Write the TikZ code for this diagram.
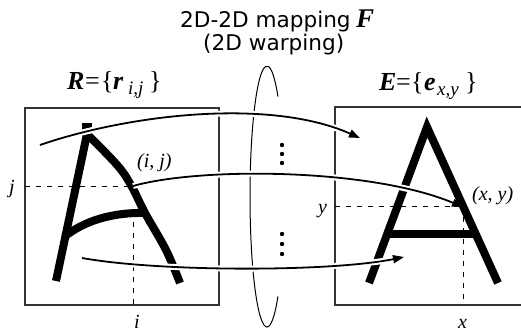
\documentclass[tikz,border=0pt]{standalone}
\usepackage{fontspec}
\setmainfont{Liberation Serif}
\newfontfamily\titlefont{DejaVu Sans}
\usetikzlibrary{arrows.meta}
\newcommand{\bi}[1]{\textbf{\textit{#1}}}
\newcommand{\sbx}[2]{\makebox[#1pt][l]{#2}}
\newcommand{\subtx}[1]{\raisebox{-5pt}{\fontsize{19}{19}\selectfont\itshape #1}}
\tikzset{
  box/.style={draw=black!80, line width=1.1pt},
  glyph/.style={line width=8pt, line join=miter, line cap=butt},
  guide/.style={dash pattern=on 5pt off 6pt, line width=0.9pt},
  halo/.style={draw=white, line width=6pt, shorten >=9pt},
  maparrow/.style={line width=1.8pt, -{Triangle[length=11pt,width=8pt]}},
  lbl/.style={font=\fontsize{20}{20}\selectfont\itshape, inner sep=0pt, anchor=base west},
  setlbl/.style={font=\fontsize{26}{26}\selectfont, inner sep=0pt, anchor=base west},
  ttl/.style={font=\fontsize{21.6}{21.6}\selectfont\titlefont, inner sep=0pt, anchor=base west},
  bigF/.style={font=\fontsize{27}{27}\selectfont\bfseries\itshape, inner sep=0pt, anchor=base west},
}
\begin{document}
\begin{tikzpicture}[x=1pt,y=-1pt]
\useasboundingbox (0,0) rectangle (521,332);
% boxes
\draw[box] (25,108) rectangle (219,305);
\draw[box] (521,107) -- (335,107) -- (335,305) -- (521,305);
% ellipse (partly drawn)
\draw[line width=1pt] (277.93,96.53) arc[start angle=50, end angle=310, x radius=17pt, y radius=130.5pt];
% guides
\draw[guide] (25,186) -- (133,186);
\draw[guide] (133,222) -- (133,305);
\draw[guide] (335,206) -- (463,206);
\draw[guide] (463,206) -- (463,305);
% left (warped) A
\draw[glyph, line join=bevel] (56,281) -- plot[smooth, tension=0.6] coordinates {(87,134) (118,166) (132,187) (145,213) (166,250) (180,283)};
\fill (82,123) rectangle (92,136);
\draw[glyph] (64,237) .. controls (84,221) and (112,212) .. (147,213);
% right A
\draw[glyph] (369,283) -- (427,127) -- (498,283);
\draw[glyph] (384,234) -- (478,234);
% labels
\node[ttl] (t1) at (180,27) {2D-2D mapping};
\node[bigF] (tF) at (356,27) {F};
\node[ttl] (t2) at (203,50) {(2D warping)};
\node[setlbl] (Rset) at (67,89) {\sbx{18}{\bi{R}}\sbx{16}{=}\sbx{12}{\{}\sbx{15}{\bi{r}}\sbx{21}{\subtx{i,j}}\}};
\node[setlbl] (Eset) at (379,90) {\sbx{17}{\bi{E}}\sbx{15}{=}\sbx{13}{\{}\sbx{13}{\bi{e}}\sbx{28}{\subtx{x,y}}\}};
\node[lbl] (ij) at (137,167) {(i, j)};
\node[lbl] (xy) at (472,200) {(x, y)};
\node[lbl] (jl) at (9,193) {j};
\node[lbl] (yl) at (318,213) {y};
\node[lbl] (il) at (134,328) {i};
\node[lbl] (xl) at (458,328) {x};
% arrow end points
\coordinate (a1s) at (40,145);
\coordinate (a1e) at (360,138);
\coordinate (a2s) at (133,186);
\coordinate (a2e) at (463,207);
\coordinate (a3s) at (82,258);
\coordinate (a3e) at (404,257);
% arrows
\draw[halo] (a1s) .. controls (130,114) and (270,98) .. (a1e);
\draw[maparrow] (a1s) .. controls (130,114) and (270,98) .. (a1e);
\draw[halo] (a2s) .. controls (200,167) and (370,168) .. (a2e);
\draw[maparrow] (a2s) .. controls (200,167) and (370,168) .. (a2e);
\draw[halo] (a3s) .. controls (160,272) and (330,272) .. (a3e);
\draw[maparrow] (a3s) .. controls (160,272) and (330,272) .. (a3e);
% dots
\foreach \yy in {145,154,163,234,244,254} \fill (282,\yy) circle (2.2pt);
\end{tikzpicture}
\end{document}
